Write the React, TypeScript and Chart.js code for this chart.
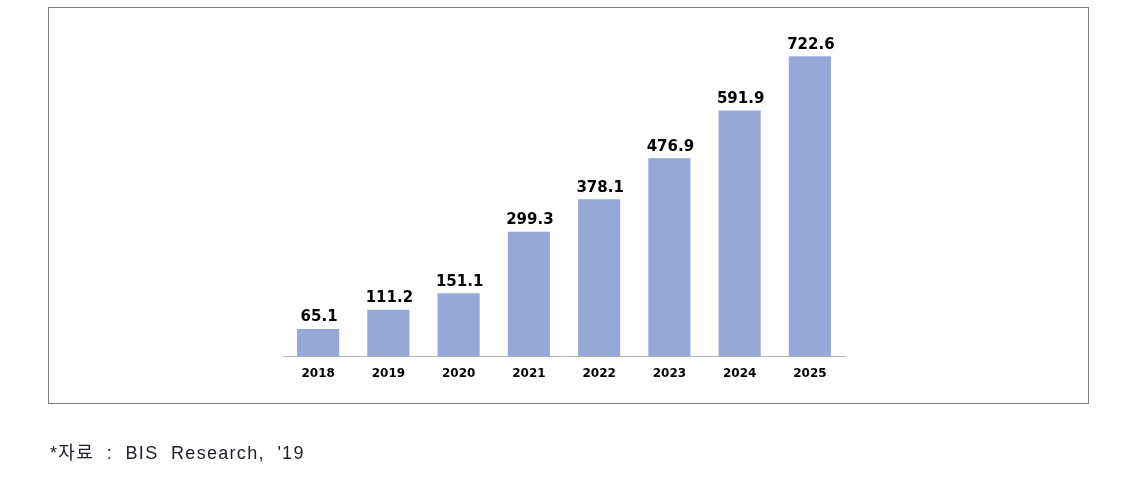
import React, { useEffect, useRef } from "react";
import { Chart, registerables } from "chart.js";

Chart.register(...registerables);

const years: string[] = ["2018", "2019", "2020", "2021", "2022", "2023", "2024", "2025"];
const values: number[] = [65.1, 111.2, 151.1, 299.3, 378.1, 476.9, 591.9, 722.6];
const sourceNote = "*자료  :  BIS  Research,  '19";

const valueLabelPlugin = {
  id: "valueLabels",
  afterDatasetsDraw(chart: any) {
    const ctx = chart.ctx;
    const meta = chart.getDatasetMeta(0);
    ctx.save();
    ctx.font = "bold 15px 'DejaVu Sans'";
    ctx.fillStyle = "#000000";
    ctx.textAlign = "center";
    ctx.textBaseline = "bottom";
    meta.data.forEach((bar: any, i: number) => {
      ctx.fillText(values[i].toFixed(1), bar.x + 1, bar.y - 4);
    });
    ctx.restore();
  },
};

export default function App() {
  const canvasRef = useRef<HTMLCanvasElement | null>(null);

  useEffect(() => {
    if (!canvasRef.current) return;
    const chart = new Chart(canvasRef.current, {
      type: "bar",
      data: {
        labels: years,
        datasets: [
          {
            data: values,
            backgroundColor: "#95A8D8",
            borderWidth: 0,
            barPercentage: 0.6,
            categoryPercentage: 1,
          },
        ],
      },
      options: {
        responsive: false,
        maintainAspectRatio: false,
        animation: false,
        layout: { padding: { left: 283, right: 281, top: 20, bottom: 0 } },
        plugins: { legend: { display: false }, tooltip: { enabled: false } },
        scales: {
          y: { display: false, min: 0, max: 810 },
          x: {
            grid: { display: false, drawTicks: false },
            border: { display: true, color: "#b4b4b4", width: 1 },
            ticks: {
              padding: 11,
              color: "#000000",
              font: { family: "'DejaVu Sans'", size: 12, weight: "bold" },
            },
            afterFit: (scale: any) => {
              scale.height = 131;
            },
          },
        },
      },
      plugins: [valueLabelPlugin],
    });
    return () => chart.destroy();
  }, []);

  return (
    <div style={{ position: "absolute", left: 0, top: 0, width: 1126, height: 487, background: "#fff" }}>
      <div
        style={{
          position: "absolute",
          left: 48,
          top: 7,
          width: 1041,
          height: 397,
          boxSizing: "border-box",
          border: "1px solid #808080",
        }}
      />
      <canvas
        ref={canvasRef}
        width={1126}
        height={487}
        style={{ position: "absolute", left: 0, top: 0, width: 1126, height: 487 }}
      />
      <div
        style={{
          position: "absolute",
          left: 50,
          top: 441,
          fontFamily: "'Liberation Sans', 'Noto Sans CJK KR', sans-serif",
          fontSize: 18,
          letterSpacing: "1.3px",
          lineHeight: "24px",
          color: "#1e1e28",
          whiteSpace: "pre",
        }}
      >
        {sourceNote}
      </div>
    </div>
  );
}
